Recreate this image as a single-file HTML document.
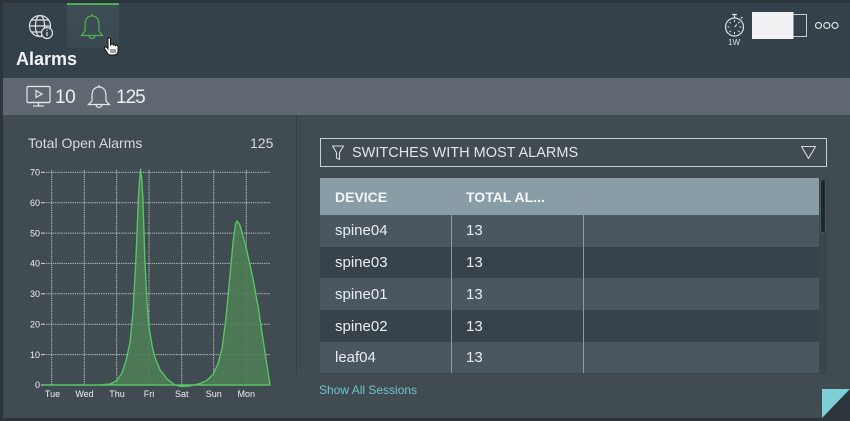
<!DOCTYPE html>
<html><head><meta charset="utf-8">
<style>
*{margin:0;padding:0;box-sizing:border-box}
html,body{width:850px;height:421px;overflow:hidden;background:#414b52;font-family:"Liberation Sans",sans-serif}
.abs{position:absolute}
.t{position:absolute;white-space:nowrap;line-height:1}
</style></head><body>
<div class="abs" style="left:0;top:0;width:850px;height:421px;background:#414b52"></div>
<!-- header -->
<div class="abs" style="left:0;top:0;width:850px;height:78px;background:#34414a"></div>
<div class="abs" style="left:0;top:0;width:850px;height:3px;background:#2b343a"></div>
<div class="abs" style="left:0;top:0;width:3px;height:421px;background:#2c363c"></div>
<!-- bell tab -->
<div class="abs" style="left:67px;top:3px;width:52px;height:45px;background:linear-gradient(#3f4e56,#3a4850)"></div>
<div class="abs" style="left:67px;top:3px;width:52px;height:2px;background:#4cb050"></div>
<svg class="abs" style="left:0;top:0" width="850" height="78" viewBox="0 0 850 78">
  <!-- globe -->
  <g fill="none" stroke="#dfe2e4" stroke-width="1.2">
    <circle cx="40" cy="26" r="10.5"/>
    <ellipse cx="40" cy="26" rx="4.5" ry="10.5"/>
    <line x1="29.5" y1="26" x2="50.5" y2="26"/>
    <path d="M31.5 20 H48.5 M31.5 32 H48.5"/>
  </g>
  <circle cx="47" cy="33" r="5.5" fill="#34414a" stroke="#dfe2e4" stroke-width="1.2"/>
  <line x1="47" y1="32" x2="47" y2="36" stroke="#dfe2e4" stroke-width="1.2"/>
  <circle cx="47" cy="30.3" r="0.7" fill="#dfe2e4"/>
  <!-- green bell -->
  <g fill="none" stroke="#4cb050" stroke-width="1.3">
    <path d="M92 16 C86 16 85 21 85 26 V31 L81.5 35.5 H102.5 L99 31 V26 C99 21 98 16 92 16 Z"/>
    <path d="M89 35.5 A3 3 0 0 0 95 35.5"/>
    <line x1="92" y1="14" x2="92" y2="16"/>
  </g>
  <!-- hand cursor -->
  <path d="M108 39 C108 37.5 110.5 37.5 110.5 39 V45 L111 44.5 C111.5 43.5 113.3 43.8 113.3 45 C113.8 44.3 115.6 44.5 115.6 45.6 C116.2 45 118 45.3 118 46.6 V51 C118 53 116.5 55 114.5 55 H110.5 C109 55 108 54 107 52.5 L104.5 48.5 C104 47.3 105.5 46.3 106.5 47.2 L108 48.8 Z" fill="#fff" stroke="#111" stroke-width="1"/>
  <path d="M111 49 V53 M113 49 V53 M115 49 V53" stroke="#111" stroke-width="0.8"/>
  <!-- stopwatch -->
  <g fill="none" stroke="#dfe2e4" stroke-width="1.2">
    <circle cx="734.5" cy="27" r="9"/>
    <line x1="734.5" y1="15" x2="734.5" y2="18"/>
    <line x1="732" y1="14.5" x2="737" y2="14.5"/>
    <line x1="741" y1="18.5" x2="742.5" y2="17"/>
  </g>
  <g stroke="#dfe2e4" stroke-width="1">
    <line x1="734.5" y1="20" x2="734.5" y2="22"/><line x1="734.5" y1="32" x2="734.5" y2="34"/>
    <line x1="727.5" y1="27" x2="729.5" y2="27"/><line x1="739.5" y1="27" x2="741.5" y2="27"/>
    <line x1="729.5" y1="22" x2="730.8" y2="23.3"/><line x1="739.5" y1="22" x2="738.2" y2="23.3"/>
    <line x1="729.5" y1="32" x2="730.8" y2="30.7"/><line x1="739.5" y1="32" x2="738.2" y2="30.7"/>
    <line x1="734.5" y1="27" x2="737" y2="24.5"/>
  </g>
  <!-- toggle -->
  <rect x="793" y="14.5" width="13.5" height="22" fill="none" stroke="#c9cdd0" stroke-width="1"/>
  <rect x="752" y="12" width="41.5" height="27" fill="#f1f1f3"/>
  <!-- dots -->
  <g fill="none" stroke="#dfe2e4" stroke-width="1.2">
    <circle cx="818.5" cy="25.5" r="3"/><circle cx="826.8" cy="25.5" r="3"/><circle cx="835" cy="25.5" r="3"/>
  </g>
</svg>
<div class="t" style="left:728px;top:39px;font-size:8px;color:#dfe2e4">1W</div>
<div class="t" style="left:16px;top:50px;font-size:18px;font-weight:bold;color:#f2f3f4">Alarms</div>
<!-- gray bar -->
<div class="abs" style="left:3px;top:78px;width:847px;height:37px;background:#5f6871"></div>
<svg class="abs" style="left:0;top:78px" width="150" height="37" viewBox="0 78 150 37">
  <g fill="none" stroke="#e4e6e8" stroke-width="1.2">
    <rect x="27" y="86.5" width="23" height="16" rx="1"/>
    <line x1="27" y1="102.5" x2="50" y2="102.5"/>
    <line x1="38.5" y1="102.5" x2="38.5" y2="105.5"/>
    <line x1="33" y1="106" x2="44" y2="106"/>
    <path d="M36 90.5 L42 94 L36 97.5 Z"/>
    <path d="M99 87 C93 87 92 92 92 97 V101 L88.5 104.5 H109.5 L106 101 V97 C106 92 105 87 99 87 Z"/>
    <path d="M96 104.5 A3 3 0 0 0 102 104.5"/>
    <line x1="99" y1="85" x2="99" y2="87"/>
  </g>
</svg>
<div class="t" style="left:55px;top:88px;font-size:19px;color:#eceef0;letter-spacing:-0.5px">10</div>
<div class="t" style="left:116px;top:88px;font-size:19px;color:#eceef0;letter-spacing:-1px">125</div>
<!-- divider -->
<div class="abs" style="left:296px;top:115px;width:1px;height:259px;background:#363f45"></div>
<!-- chart title -->
<div class="t" style="left:28px;top:136px;font-size:14px;color:#d7dadc">Total Open Alarms</div>
<div class="t" style="left:250px;top:136px;font-size:14px;color:#d7dadc;width:22px;text-align:right">125</div>
<!-- chart -->
<svg class="abs" style="left:0;top:0" width="296" height="421" viewBox="0 0 296 421">
  <g stroke="#d8dcdf" stroke-width="1" stroke-dasharray="1.2,1" opacity="0.85" fill="none">
    <line x1="44" y1="172.3" x2="270" y2="172.3"/>
    <line x1="44" y1="202.7" x2="270" y2="202.7"/>
    <line x1="44" y1="233.1" x2="270" y2="233.1"/>
    <line x1="44" y1="263.4" x2="270" y2="263.4"/>
    <line x1="44" y1="293.8" x2="270" y2="293.8"/>
    <line x1="44" y1="324.2" x2="270" y2="324.2"/>
    <line x1="44" y1="354.6" x2="270" y2="354.6"/>
    <line x1="51.7" y1="170" x2="51.7" y2="385"/>
    <line x1="84.3" y1="170" x2="84.3" y2="385"/>
    <line x1="116.7" y1="170" x2="116.7" y2="385"/>
    <line x1="149" y1="170" x2="149" y2="385"/>
    <line x1="181.7" y1="170" x2="181.7" y2="385"/>
    <line x1="213.7" y1="170" x2="213.7" y2="385"/>
    <line x1="246.3" y1="170" x2="246.3" y2="385"/>
  </g>
  <g stroke="#d8dcdf" stroke-width="1">
    <line x1="41" y1="172.3" x2="44" y2="172.3"/><line x1="41" y1="202.7" x2="44" y2="202.7"/>
    <line x1="41" y1="233.1" x2="44" y2="233.1"/><line x1="41" y1="263.4" x2="44" y2="263.4"/>
    <line x1="41" y1="293.8" x2="44" y2="293.8"/><line x1="41" y1="324.2" x2="44" y2="324.2"/>
    <line x1="41" y1="354.6" x2="44" y2="354.6"/><line x1="41" y1="385" x2="44" y2="385"/>
  </g>
  <path d="M44 385 L100 385 L110 384.1 L117 380.4 L122 372.8 L126 360.7 L130 342.5 L133 312.1 L136 257.4 L138.5 196.6 L139.6 180 L140.7 169.2 L141.8 180 L142.8 196.6 L145 263.4 L147 302.9 L149 327.3 L152 345.5 L155 357.6 L160 369.8 L167 378.9 L175 385 L181 386.5 L190 385.9 L200 383.5 L207 380.4 L213 374.4 L218 363.7 L222 348.5 L226 318.1 L230 275.6 L233 242.2 L235.5 223.9 L237.3 220.9 L240 225.5 L243 236.1 L247 251.3 L253 278.6 L258 306 L263 339.4 L270 385 Z" fill="#4e7d57" fill-opacity="0.9" stroke="#58c463" stroke-width="1.4" stroke-linejoin="round"/>
  <g font-family="Liberation Sans, sans-serif" font-size="9" fill="#eef0f1" text-anchor="end">
    <text x="40" y="175.5">70</text><text x="40" y="206">60</text><text x="40" y="236.3">50</text>
    <text x="40" y="266.6">40</text><text x="40" y="297">30</text><text x="40" y="327.4">20</text>
    <text x="40" y="357.8">10</text><text x="40" y="388.2">0</text>
  </g>
  <g font-family="Liberation Sans, sans-serif" font-size="9" fill="#eef0f1" text-anchor="middle">
    <text x="52.5" y="397">Tue</text><text x="84.5" y="397">Wed</text><text x="117" y="397">Thu</text>
    <text x="149" y="397">Fri</text><text x="181.7" y="397">Sat</text><text x="213.7" y="397">Sun</text>
    <text x="246.3" y="397">Mon</text>
  </g>
</svg>
<!-- filter -->
<div class="abs" style="left:320px;top:138px;width:507px;height:29px;border:1px solid #c9ced1"></div>
<svg class="abs" style="left:330px;top:144px" width="20" height="20" viewBox="0 0 20 20">
  <path d="M2.5 2 H13.5 L9.5 8.5 V15.5 L6.5 14 V8.5 Z" fill="none" stroke="#d5d9dc" stroke-width="1.1" stroke-linejoin="round"/>
</svg>
<div class="t" style="left:352px;top:146px;font-size:14.5px;color:#e3e6e8">SWITCHES WITH MOST ALARMS</div>
<svg class="abs" style="left:800px;top:145px" width="18" height="16" viewBox="0 0 18 16">
  <path d="M1.5 1.5 H15.5 L8.5 13.5 Z" fill="none" stroke="#d5d9dc" stroke-width="1.1" stroke-linejoin="round"/>
</svg>
<!-- table -->
<div class="abs" style="left:320px;top:178px;width:507px;height:196px;background:#3a454c"></div>
<div class="abs" style="left:320px;top:178px;width:499px;height:37px;background:#899da7"></div>
<div class="abs" style="left:320px;top:215px;width:499px;height:32px;background:#4a5760"></div>
<div class="abs" style="left:320px;top:247px;width:499px;height:31px;background:#37424a"></div>
<div class="abs" style="left:320px;top:278px;width:499px;height:32px;background:#4a5760"></div>
<div class="abs" style="left:320px;top:310px;width:499px;height:32px;background:#37424a"></div>
<div class="abs" style="left:320px;top:342px;width:499px;height:31px;background:#4a5760"></div>
<div class="abs" style="left:451px;top:178px;width:1px;height:195px;background:#8c9aa2"></div>
<div class="abs" style="left:583px;top:178px;width:1px;height:195px;background:#8c9aa2"></div>
<div class="abs" style="left:820px;top:179px;width:6px;height:54px;background:#20272c;border:1px solid #4d5960;border-radius:3px"></div>
<div class="t" style="left:335px;top:190px;font-size:14px;font-weight:bold;color:#f4f6f7">DEVICE</div>
<div class="t" style="left:466px;top:190px;font-size:14px;font-weight:bold;color:#f4f6f7">TOTAL AL...</div>
<div class="t" style="left:335px;top:223px;font-size:15px;color:#eceef0">spine04</div>
<div class="t" style="left:466px;top:223px;font-size:15px;color:#eceef0">13</div>
<div class="t" style="left:335px;top:255px;font-size:15px;color:#eceef0">spine03</div>
<div class="t" style="left:466px;top:255px;font-size:15px;color:#eceef0">13</div>
<div class="t" style="left:335px;top:287px;font-size:15px;color:#eceef0">spine01</div>
<div class="t" style="left:466px;top:287px;font-size:15px;color:#eceef0">13</div>
<div class="t" style="left:335px;top:319px;font-size:15px;color:#eceef0">spine02</div>
<div class="t" style="left:466px;top:319px;font-size:15px;color:#eceef0">13</div>
<div class="t" style="left:335px;top:350px;font-size:15px;color:#eceef0">leaf04</div>
<div class="t" style="left:466px;top:350px;font-size:15px;color:#eceef0">13</div>
<div class="t" style="left:319px;top:384px;font-size:12px;color:#6dc5cb">Show All Sessions</div>
<!-- bottom -->
<div class="abs" style="left:0;top:418px;width:850px;height:3px;background:#2c363c"></div>
<svg class="abs" style="left:822px;top:389px" width="28" height="29" viewBox="0 0 28 29">
  <rect width="28" height="29" fill="#2c363c"/>
  <path d="M0 0 H28 L0 29 Z" fill="#7ccfd4"/>
</svg>
</body></html>
